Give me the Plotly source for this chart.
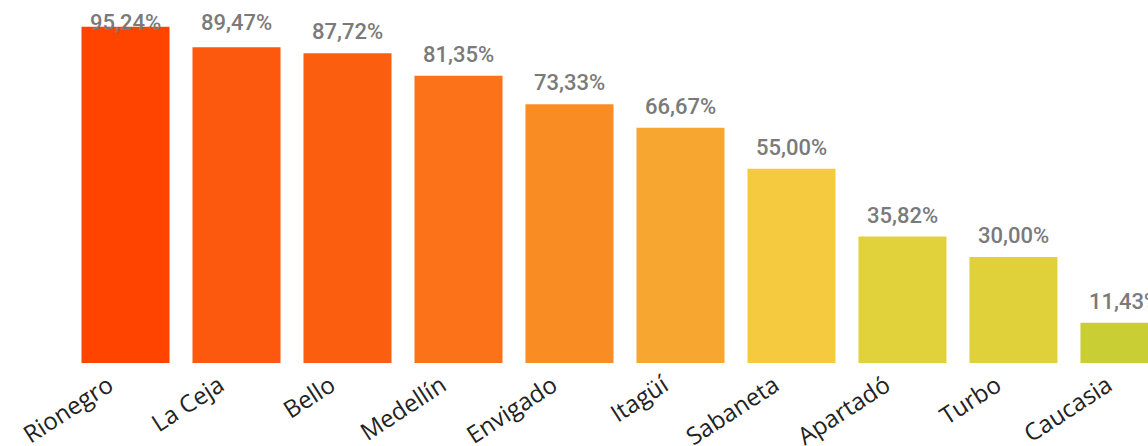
import plotly.graph_objects as go

municipios = ["Rionegro", "La Ceja", "Bello", "Medellín", "Envigado",
              "Itagüí", "Sabaneta", "Apartadó", "Turbo", "Caucasia"]
porcentaje = [95.24, 89.47, 87.72, 81.35, 73.33, 66.67, 55.00, 35.82, 30.00, 11.43]
colores = ["#FF4400", "#FC580E", "#FC5E10", "#FC7218", "#F98D24",
           "#F7A630", "#F5CA3F", "#E1D23B", "#E0D13A", "#C9CE34"]

Y_MAX = 100
PLOT_TOP_PX = 10
PLOT_H_PX = 353
LABEL_FONT = dict(family="Roboto", size=22, color="#7A7A7A", weight=500)


def fmt(v):
    return f"{v:.2f}".replace(".", ",") + "%"


fig = go.Figure()
fig.add_trace(go.Bar(
    x=municipios, y=porcentaje,
    marker_color=colores, marker_line_width=0,
    hovertemplate="%{x}: %{y:.2f}%<extra></extra>",
))

# data labels: above the bar, pushed down when they would leave the visual
annotations = []
for m, v in zip(municipios, porcentaje):
    top_px = PLOT_TOP_PX + PLOT_H_PX * (1 - v / Y_MAX) - 40
    if top_px < 8:
        annotations.append(dict(x=m, y=1, yref="paper", yanchor="top", yshift=2,
                                text=fmt(v), showarrow=False, font=LABEL_FONT))
    else:
        annotations.append(dict(x=m, y=v, yanchor="bottom", yshift=7,
                                text=fmt(v), showarrow=False, font=LABEL_FONT))

fig.update_layout(
    width=1148, height=446,
    margin=dict(l=70, r=0, t=PLOT_TOP_PX, b=83),
    paper_bgcolor="white", plot_bgcolor="white",
    showlegend=False, bargap=0.207,
    annotations=annotations,
)

fig.update_xaxes(range=[-0.5, 9.212], showgrid=False, showline=False, zeroline=False,
                 automargin=False,
                 tickangle=-33, ticklabelshift=-17, ticklabelstandoff=3,
                 tickfont=dict(family="Open Sans", size=24, color="#222222"))
fig.update_yaxes(range=[0, Y_MAX], visible=False, showgrid=False, zeroline=False,
                 automargin=False)

fig.write_html("out.html", config={"displayModeBar": False},
               post_script="document.body.style.margin='0';"
                           "document.body.style.overflow='hidden';")
